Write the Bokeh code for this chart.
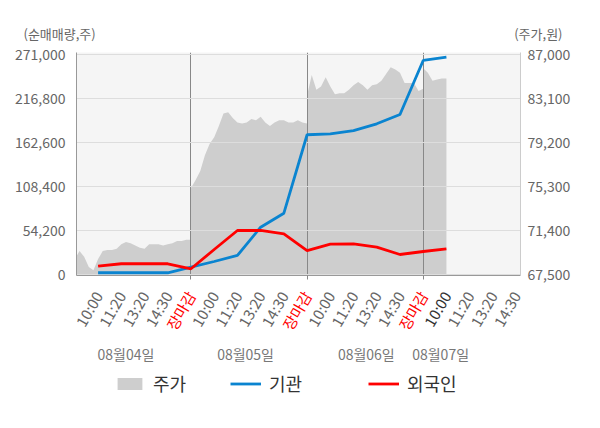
from bokeh.plotting import figure
from bokeh.layouts import column
from bokeh.models import (Range1d, LinearAxis, FixedTicker, NumeralTickFormatter,
                          ColumnDataSource, Legend, LegendItem)
from bokeh.embed import file_html
from bokeh.resources import INLINE
from bokeh.core.properties import value

# ---------------- data ----------------
days = ["08월04일", "08월05일", "08월06일", "08월07일"]
session_ticks = ["10:00", "11:20", "13:20", "14:30", "장마감"]
tick_labels = session_ticks * 3 + session_ticks[:4]

left_ticks = [0, 54200, 108400, 162600, 216800, 271000]
right_ticks = [67500, 71400, 75300, 79200, 83100, 87000]

# net buying volume (shares), one value per tick point
inst = [2500, 2500, 2500, 2500, 9400, 16400, 23800, 58600, 75900,
        172500, 173700, 177700, 186000, 197500, 264000, 268000]
foreign = [10600, 13600, 13600, 13600, 7400, 31200, 54600, 54600, 50500,
           29900, 37900, 38200, 34000, 25000, 28700, 32000]

# share price (KRW), evenly sampled within each session
price_day1 = [68900, 69600, 69100, 68200, 67900, 68900, 69600, 69700, 69700, 69800,
              70200, 70400, 70300, 70100, 69900, 69800, 70200, 70200, 70200, 70100,
              70200, 70300, 70500, 70500, 70600, 70600]
price_day2 = [75200, 75900, 76700, 78100, 79100, 79700, 80700, 81800, 81900, 81400,
              81000, 80900, 81000, 81300, 81200, 81500, 81000, 80700, 81000, 81200,
              81200, 81000, 81000, 81200, 81000, 80900]
price_day3 = [83400, 85200, 83900, 84200, 85000, 84200, 83500, 83600, 83600, 83900,
              84300, 84600, 84300, 83900, 84300, 84400, 84700, 85300, 85900, 85700,
              85400, 84500, 84500, 84500, 83800, 84000]
price_day4 = [85800, 85400, 84700, 84800, 84900, 84900]
price_days = [price_day1, price_day2, price_day3, price_day4]

# ---------------- styling / layout ----------------
FONT = "Noto Sans CJK KR"
GRAY_TXT = "#666666"
AREA = "#cecece"
BLUE = "#0a84d0"
RED = "#ff0000"
PER_DAY = len(session_ticks)

W = 600
TOP_H = 44
MAIN_H = 243
BOT_H = 428 - TOP_H - MAIN_H
BL, BR = 76, 80
X0, X1 = 0.07, 19.19

# ---- top strip: axis titles ----
top = figure(width=W, height=TOP_H, output_backend="svg", toolbar_location=None,
             x_range=Range1d(0, W), y_range=Range1d(0, TOP_H),
             x_axis_type=None, y_axis_type=None, min_border=0, frame_align=False)
top.outline_line_color = None
top.grid.visible = False
top.text(x=[23], y=[11], text=["(순매매량,주)"], text_align="left", text_baseline="middle",
         text_font=value(FONT), text_font_size="13px", text_color=GRAY_TXT)
top.text(x=[562], y=[11], text=["(주가,원)"], text_align="right", text_baseline="middle",
         text_font=value(FONT), text_font_size="13px", text_color=GRAY_TXT)

# ---- main chart ----
p = figure(width=W, height=MAIN_H, output_backend="svg", toolbar_location=None,
           x_range=Range1d(X0, X1), y_range=Range1d(-862, 273833),
           min_border_left=BL, min_border_right=BR, min_border_top=8, min_border_bottom=12,
           frame_align=False)
p.extra_y_ranges = {"price": Range1d(67438, 87204)}
p.background_fill_color = "#f5f5f5"
p.border_fill_color = "white"
p.outline_line_color = None

step = PER_DAY / (len(price_day1) - 1)
for d, vals in enumerate(price_days):
    xs = [PER_DAY * d + i * step for i in range(len(vals))]
    src = ColumnDataSource(dict(x=xs, y=vals, base=[right_ticks[0]] * len(vals)))
    p.varea(x="x", y1="base", y2="y", source=src, fill_color=AREA,
            y_range_name="price", level="image")

line_x = [i + 1 for i in range(len(inst))]
p.line(line_x, inst, line_color=BLUE, line_width=2.8)
p.line(line_x, foreign, line_color=RED, line_width=2.8)

yl = p.yaxis[0]
yl.ticker = FixedTicker(ticks=left_ticks)
yl.formatter = NumeralTickFormatter(format="0,0")
p.ygrid.ticker = FixedTicker(ticks=left_ticks)
p.ygrid.grid_line_color = "#dddddd"

yr = LinearAxis(y_range_name="price", ticker=FixedTicker(ticks=right_ticks),
                formatter=NumeralTickFormatter(format="0,0"))
p.add_layout(yr, "right")

for ax, standoff, lc in ((yl, 11, "#999999"), (yr, 7, "#cccccc")):
    ax.major_tick_out = 0
    ax.major_tick_in = 0
    ax.minor_tick_out = 0
    ax.minor_tick_in = 0
    ax.axis_line_color = lc
    ax.major_label_standoff = standoff
    ax.major_label_text_font = FONT
    ax.major_label_text_font_size = "14px"
    ax.major_label_text_color = GRAY_TXT

day_bounds = [PER_DAY * (d + 1) for d in range(len(days) - 1)]
xa = p.xaxis[0]
xa.ticker = FixedTicker(ticks=day_bounds)
xa.major_label_overrides = {b: "" for b in day_bounds}
xa.major_label_text_font_size = "1px"
xa.major_label_standoff = 0
xa.minor_tick_out = 0
xa.minor_tick_in = 0
xa.major_tick_in = 0
xa.major_tick_out = 4
xa.major_tick_line_color = "#888888"
xa.axis_line_color = "#999999"
p.xgrid.ticker = FixedTicker(ticks=day_bounds)
p.xgrid.grid_line_color = "#888888"

# ---- bottom strip: time labels, day labels, legend (same x scale) ----
unit = (W - BL - BR) / (X1 - X0)
bot = figure(width=W, height=BOT_H, output_backend="svg", toolbar_location=None,
             x_range=Range1d(X0 - BL / unit, X1 + BR / unit), y_range=Range1d(0, BOT_H),
             x_axis_type=None, y_axis_type=None, min_border=0, frame_align=False)
bot.outline_line_color = None
bot.grid.visible = False

tick_x = [i + 1 for i in range(len(tick_labels))]
latest = len(inst) - 1
tick_colors = []
for i, t in enumerate(tick_labels):
    if t == "장마감":
        tick_colors.append(RED)
    elif i == latest:
        tick_colors.append("#333333")
    else:
        tick_colors.append(GRAY_TXT)
tsrc = ColumnDataSource(dict(x=tick_x, text=tick_labels, color=tick_colors))
bot.text(x="x", y=BOT_H - 5, text="text", source=tsrc, angle=60, angle_units="deg",
         text_align="right", text_baseline="middle", text_color="color",
         text_font=value(FONT), text_font_size="15px")

day_label_x = [2.2, 7.35, 12.55, 15.75]
bot.text(x=day_label_x, y=[BOT_H - 66] * len(days), text=days, text_align="center",
         text_baseline="middle", text_font=value(FONT), text_font_size="14px",
         text_color="#777777")

# legend proxies (same styling as the chart marks, no visible data)
proxy = ColumnDataSource(dict(x=[X0 - BL / unit], y=[0], b=[0]))
leg_area = bot.varea(x="x", y1="b", y2="y", source=proxy, fill_color=AREA)
leg_blue = bot.line(x="x", y="y", source=proxy, line_color=BLUE, line_width=2.8)
leg_red = bot.line(x="x", y="y", source=proxy, line_color=RED, line_width=2.8)
for r, lab, vx in ((leg_area, "주가", 114), (leg_blue, "기관", 230), (leg_red, "외국인", 368)):
    lg = Legend(items=[LegendItem(label=lab, renderers=[r])], location=(vx, 32),
                orientation="horizontal", border_line_color=None, background_fill_alpha=0,
                padding=0, margin=0, spacing=0, glyph_width=31, glyph_height=15,
                label_standoff=8, label_text_font=FONT, label_text_font_size="18px",
                label_text_color="#333333")
    bot.add_layout(lg, "center")

layout = column(top, p, bot, spacing=0)
open("out.html", "w").write(file_html(layout, INLINE))
